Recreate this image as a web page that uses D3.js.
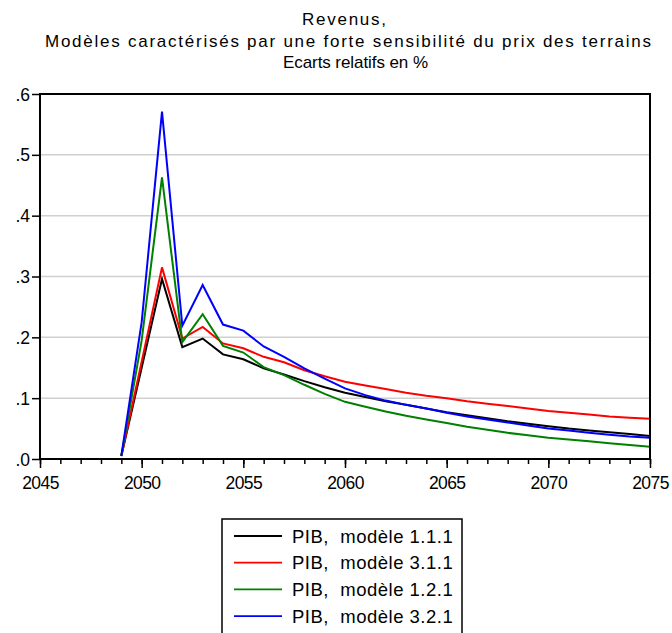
<!DOCTYPE html>
<html><head><meta charset="utf-8">
<script src="https://cdn.jsdelivr.net/npm/d3@7"></script>
<style>body{margin:0;background:#fff}svg{display:block;font-family:"Liberation Sans",Arial,sans-serif}</style>
</head><body><svg id="c" width="672" height="633"></svg>
<script>
const titleLines = ["Revenus,", "Modèles caractérisés par une forte sensibilité du prix des terrains", "Ecarts relatifs en %"];
const years = d3.range(2049, 2076);
const seriesNames = ["PIB,  modèle 1.1.1", "PIB,  modèle 3.1.1", "PIB,  modèle 1.2.1", "PIB,  modèle 3.2.1"];
const seriesColors = ["#000000", "#ff0000", "#008000", "#0000ff"];
const pib111 = [.005,.150,.296,.184,.198,.172,.164,.149,.139,.128,.118,.109,.102,.095,.089,.083,.077,.072,.067,.062,.058,.054,.050,.047,.044,.041,.038];
const pib311 = [.005,.160,.315,.198,.217,.190,.182,.168,.159,.146,.136,.127,.121,.115,.109,.104,.100,.095,.091,.087,.083,.079,.076,.073,.070,.068,.066];
const pib121 = [.005,.195,.463,.192,.238,.186,.175,.151,.138,.122,.107,.094,.086,.078,.071,.065,.059,.053,.048,.043,.039,.035,.032,.029,.026,.023,.020];
const pib321 = [.005,.225,.571,.219,.286,.221,.211,.185,.168,.149,.132,.116,.105,.096,.089,.083,.076,.070,.065,.060,.055,.050,.047,.043,.040,.037,.035];
const yTickValues = [0, .1, .2, .3, .4, .5, .6];
const yTickLabels = [".0", ".1", ".2", ".3", ".4", ".5", ".6"];
const xTickValues = [2045, 2050, 2055, 2060, 2065, 2070, 2075];

const series = [pib111, pib311, pib121, pib321];
const svg = d3.select("#c");
const L = 40, R = 650, T = 94, B = 459;
const x = d3.scaleLinear().domain([2045, 2075]).range([L, R]);
const y = d3.scaleLinear().domain([0, .6]).range([B, T]);

// title
const tl = [{x:302,w:84,y:25},{x:45,w:606,y:47},{x:283,w:145,y:68}];
svg.selectAll("text.title").data(titleLines).join("text")
  .attr("x",(d,i)=>tl[i].x).attr("y",(d,i)=>tl[i].y)
  .attr("textLength",(d,i)=>tl[i].w).attr("lengthAdjust","spacing")
  .attr("font-size",17).attr("fill","#000").text(d=>d);

// grid
svg.append("g").selectAll("line").data(yTickValues.filter(v=>v>0 && v<.6)).join("line")
  .attr("x1",L).attr("x2",R).attr("y1",d=>y(d)).attr("y2",d=>y(d))
  .attr("stroke","#d0d0d0").attr("stroke-width",1.5);

// y axis
const yAxis = d3.axisLeft(y).tickValues(yTickValues).tickSize(8).tickFormat((d,i)=>yTickLabels[i]);
const gy = svg.append("g").attr("transform",`translate(${L},0)`).call(yAxis);
gy.select(".domain").remove();
gy.selectAll("line").attr("stroke","#000").attr("stroke-width",1.5);
gy.selectAll("text").attr("font-size",17.5).attr("font-family","Liberation Sans, Arial").attr("fill","#000").attr("x",-10).attr("dy","0.35em");

// x axis minor and major
const gxm = svg.append("g").attr("transform",`translate(0,${B})`)
  .call(d3.axisBottom(x).tickValues(d3.range(2045,2076)).tickSize(5).tickFormat(""));
gxm.select(".domain").remove();
gxm.selectAll("line").attr("stroke","#000").attr("stroke-width",1.5);
const gx = svg.append("g").attr("transform",`translate(0,${B})`)
  .call(d3.axisBottom(x).tickValues(xTickValues).tickSize(9).tickFormat(d3.format("d")));
gx.select(".domain").remove();
gx.selectAll("line").attr("stroke","#000").attr("stroke-width",1.5);
gx.selectAll("text").attr("font-size",17.5).attr("font-family","Liberation Sans, Arial").attr("fill","#000")
  .attr("letter-spacing","-0.6").attr("y",18).attr("dy","0.71em");

// lines
const line = d3.line().x((d,i)=>x(years[i])).y(d=>y(d));
svg.append("g").selectAll("path").data(series).join("path")
  .attr("d",line).attr("fill","none").attr("stroke",(d,i)=>seriesColors[i])
  .attr("stroke-width",2).attr("stroke-linejoin","miter");

// frame
svg.append("rect").attr("x",L).attr("y",T).attr("width",R-L).attr("height",B-T)
  .attr("fill","none").attr("stroke","#000").attr("stroke-width",2);

// legend
const lg = svg.append("g");
lg.append("rect").attr("x",222).attr("y",519).attr("width",240).attr("height",130)
  .attr("fill","#fff").attr("stroke","#000").attr("stroke-width",1.5);
const rows = lg.selectAll("g.row").data(seriesNames).join("g")
  .attr("transform",(d,i)=>`translate(0,${536 + i*26.7})`);
rows.append("line").attr("x1",234).attr("x2",282).attr("stroke",(d,i)=>seriesColors[i]).attr("stroke-width",1.8);
rows.append("text").attr("x",292).attr("dy","0.36em").attr("font-size",18.5).attr("letter-spacing","0.5").attr("fill","#000")
  .attr("xml:space","preserve").style("white-space","pre").text(d=>d);
</script></body></html>
